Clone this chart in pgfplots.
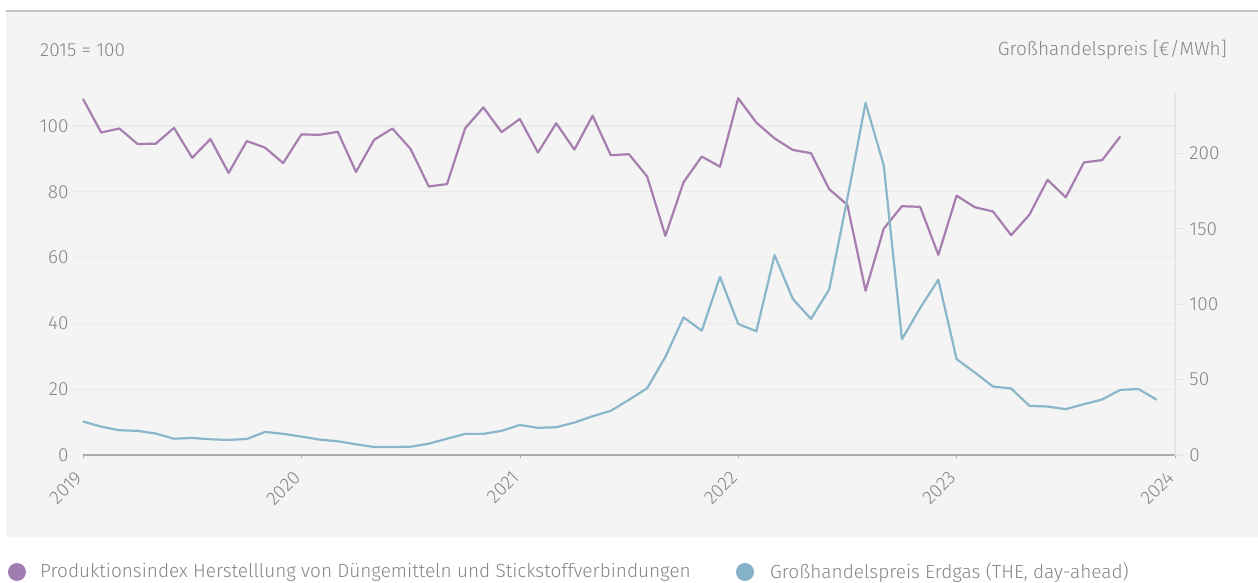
\documentclass[border=0pt]{standalone}
\usepackage{fontspec}
\setmainfont{Fira Sans}[UprightFont={* Light}]
\usepackage{pgfplots}
\pgfplotsset{compat=1.18}

\definecolor{panel}{HTML}{F4F4F4}
\definecolor{topline}{HTML}{C4C4C4}
\definecolor{txt}{HTML}{868686}
\definecolor{gridc}{HTML}{EAEAEA}
\definecolor{axisc}{HTML}{ABABAB}
\definecolor{raxis}{HTML}{E6E6E6}
\definecolor{prod}{HTML}{A67EB0}
\definecolor{gas}{HTML}{8AB6CA}
\definecolor{proddot}{HTML}{9F7DB0}
\definecolor{gasdot}{HTML}{86B2C7}

\newcommand{\lbl}{\fontsize{19}{22}\selectfont}

% months since Jan 2019
\pgfplotstableread{
m v
0 108.2
1 98.0
2 99.2
3 94.5
4 94.6
5 99.4
6 90.3
7 96.0
8 85.7
9 95.4
10 93.4
11 88.7
12 97.4
13 97.3
14 98.2
15 86.0
16 95.8
17 99.2
18 93.0
19 81.6
20 82.3
21 99.3
22 105.6
23 98.1
24 102.1
25 91.9
26 100.8
27 92.8
28 103.1
29 91.1
30 91.4
31 84.6
32 66.6
33 82.9
34 90.7
35 87.6
36 108.4
37 101.0
38 96.2
39 92.7
40 91.7
41 80.8
42 76.0
43 49.9
44 68.8
45 75.6
46 75.4
47 60.8
48 78.8
49 75.3
50 74.0
51 66.8
52 73.0
53 83.6
54 78.3
55 88.9
56 89.6
57 96.8
}\prodtab

\pgfplotstableread{
m v
0 22.2
1 18.8
2 16.4
3 16.0
4 14.2
5 10.8
6 11.3
7 10.4
8 10.0
9 10.6
10 15.3
11 14.0
12 12.2
13 10.2
14 9.1
15 7.1
16 5.3
17 5.3
18 5.5
19 7.5
20 10.8
21 14.0
22 14.0
23 16.0
24 19.9
25 18.0
26 18.4
27 21.5
28 25.7
29 29.3
30 36.6
31 44.3
32 65.0
33 91.3
34 82.4
35 118.1
36 86.9
37 82.0
38 132.5
39 103.5
40 90.2
41 109.7
42 170.0
43 233.4
44 192.0
45 76.7
46 97.5
47 116.2
48 63.6
49 54.7
50 45.4
51 44.1
52 32.6
53 32.1
54 30.4
55 33.7
56 36.8
57 43.2
58 43.7
59 36.6
}\gastab

\pgfplotsset{
  base/.style={
    at={(83pt,128pt)}, anchor=south west,
    scale only axis, width=1092pt, height=362pt,
    xmin=0, xmax=60,
    font=\lbl,
    tick label style={text=txt},
    /pgf/number format/assume math mode=true,
    clip=false,
  },
}

\begin{document}
\begin{tikzpicture}[x=1pt,y=1pt]
\useasboundingbox (0,0) rectangle (1258,583);
\fill[white] (0,0) rectangle (1258,583);
\fill[panel] (6,46) rectangle (1258,572);
\draw[topline, line width=1.2pt] (6,572) -- (1258,572);
\node[anchor=west, text=txt, font=\lbl, inner sep=0pt] at (40,533) {2015 = 100};
\node[anchor=east, text=txt, font=\lbl, inner sep=0pt] at (1227,533) {Großhandelspreis [€/MWh]};

% left axis: production index
\begin{axis}[base,
    ymin=0, ymax=110,
    axis x line*=bottom, axis y line*=left,
    x axis line style={draw=axisc, line width=1.2pt},
    y axis line style={draw=none},
    xtick={0,12,...,60},
    xticklabels={2019,2020,2021,2022,2023,2024},
    xticklabel style={xshift=-9pt, yshift=-7pt, rotate=45, anchor=north east},
    xtick style={draw=axisc},
    xtick align=outside, major tick length=3pt,
    ytick={0,20,...,100},
    ytick style={draw=none},
    yticklabel style={xshift=-11pt},
    ymajorgrids, grid style={draw=gridc, line width=1.2pt},
  ]
  \pgfplotsinvokeforeach{20,40,60,80,100}{
    \draw[gridc, line width=1.2pt] (axis cs:-0.6,#1) -- (axis cs:0,#1);
  }
  \addplot[prod, line width=2.2pt, line join=round] table[x=m, y=v] {\prodtab};
\end{axis}

% right axis: gas price
\begin{axis}[base,
    ymin=0, ymax=240,
    axis x line=none, axis y line*=right,
    y axis line style={draw=raxis, line width=1.2pt},
    ytick={0,50,...,200},
    ytick style={draw=raxis, line width=1.2pt},
    ytick align=outside, major tick length=9pt,
    yticklabel style={xshift=2pt},
  ]
  \addplot[gas, line width=2.2pt, line join=round] table[x=m, y=v] {\gastab};
\end{axis}

% legend
\fill[proddot] (17,11) circle (9);
\node[anchor=west, text=txt, font=\lbl, inner sep=0pt] at (40,11) {Produktionsindex Herstelllung von Düngemitteln und Stickstoffverbindungen};
\fill[gasdot] (745,11) circle (9);
\node[anchor=west, text=txt, font=\lbl, inner sep=0pt] at (770,11) {Großhandelspreis Erdgas (THE, day-ahead)};
\end{tikzpicture}
\end{document}
